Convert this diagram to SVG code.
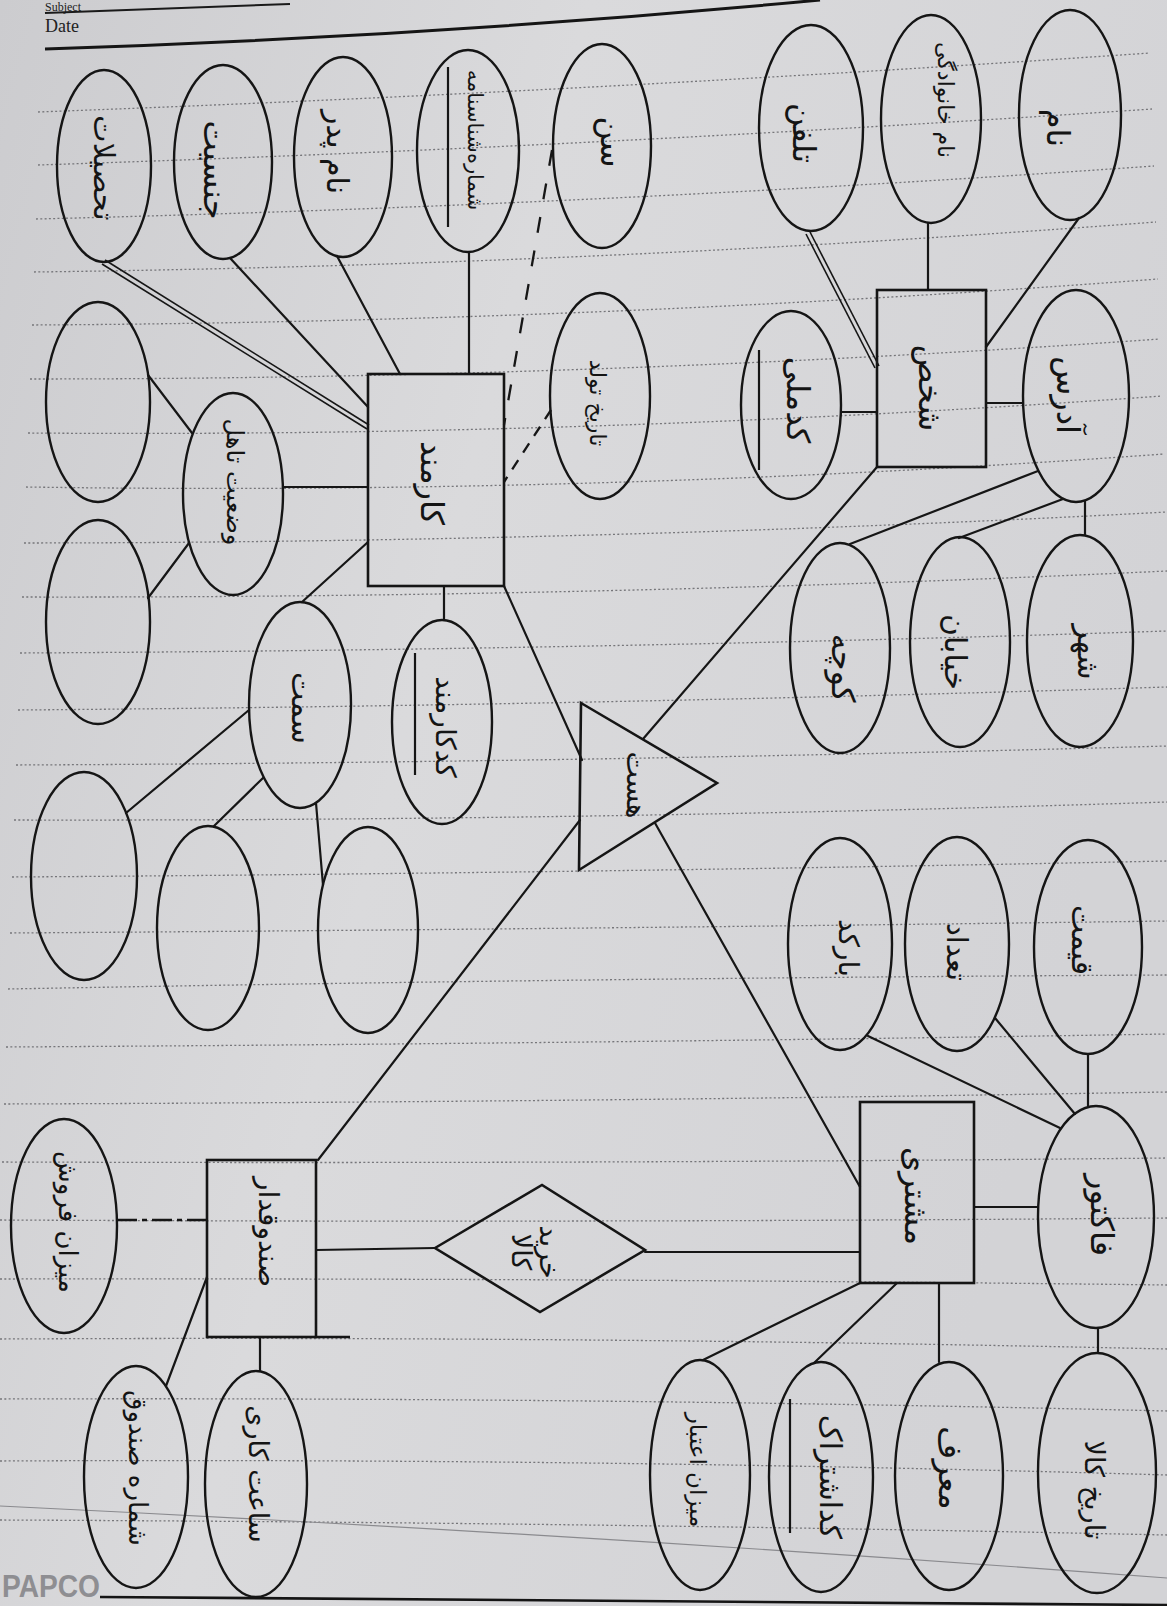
<svg xmlns="http://www.w3.org/2000/svg" width="1167" height="1606" viewBox="0 0 1167 1606">
<defs>
<linearGradient id="paper" x1="0" y1="0" x2="1" y2="0.35">
<stop offset="0" stop-color="#cccccf"/>
<stop offset="0.45" stop-color="#dadadc"/>
<stop offset="1" stop-color="#d3d3d6"/>
</linearGradient>
</defs>
<style>
.ln{stroke:#161616;stroke-width:2.2;fill:none;stroke-linecap:round}
.dbl{stroke:#161616;stroke-width:1.6;fill:none}
.dash{stroke:#161616;stroke-width:2.3;fill:none;stroke-dasharray:16 18}
.dash2{stroke:#161616;stroke-width:2.3;fill:none;stroke-dasharray:11 9}
.dashdot{stroke:#161616;stroke-width:2.4;fill:none;stroke-dasharray:20 5 5 5}
.shape{fill:none;stroke:#151515;stroke-width:2.6;stroke-linejoin:miter}
.ell{fill:none;stroke:#151515;stroke-width:2.4}
.lbl{font-family:"DejaVu Sans","Noto Sans",sans-serif;fill:#141414;text-anchor:middle;dominant-baseline:central}
.key{stroke:#151515;stroke-width:2.2}
.rule{fill:none;stroke:#76767a;stroke-width:1.3;stroke-dasharray:2 2.3}
</style>

<!-- notebook page -->
<rect x="0" y="0" width="1167" height="1606" fill="url(#paper)"/>
<g id="ruling">
<path class="rule" d="M38,112 Q590,91.5 1150,53"/>
<path class="rule" d="M38,165 Q590,147 1152,109"/>
<path class="rule" d="M36,219 Q590,205.5 1154,166"/>
<path class="rule" d="M34,272 Q590,265 1156,222"/>
<path class="rule" d="M32,325 Q590,322 1158,279"/>
<path class="rule" d="M30,379 Q590,379 1160,339"/>
<path class="rule" d="M28,433 Q590,437.5 1162,396"/>
<path class="rule" d="M26,487 Q590,495.5 1164,454"/>
<path class="rule" d="M24,543 Q590,542.5 1167,512"/>
<path class="rule" d="M22,597 Q590,598 1167,571"/>
<path class="rule" d="M20,653 Q590,650 1167,631"/>
<path class="rule" d="M18,710 Q590,705.5 1167,687"/>
<path class="rule" d="M16,765 Q590,762.5 1167,746"/>
<path class="rule" d="M14,820 Q590,821 1167,802"/>
<path class="rule" d="M12,877 Q590,873 1167,861"/>
<path class="rule" d="M10,933 Q590,929 1167,921"/>
<path class="rule" d="M8,989 Q590,978 1167,975"/>
<path class="rule" d="M6,1047 Q590,1043.5 1167,1034"/>
<path class="rule" d="M4,1104 Q590,1102 1167,1092"/>
<path class="rule" d="M2,1162 Q590,1164 1167,1158"/>
<path class="rule" d="M0,1220 Q590,1223 1167,1218"/>
<path class="rule" d="M0,1279 Q590,1278 1167,1285"/>
<path class="rule" d="M0,1339 Q590,1336 1167,1349"/>
<path class="rule" d="M0,1399 Q590,1397 1167,1411"/>
<path class="rule" d="M0,1461 Q590,1458 1167,1475"/>
<path class="rule" d="M0,1520 Q590,1522.5 1167,1535"/>
<path d="M0,1506 Q600,1535 1167,1578" fill="none" stroke="#8a8a8e" stroke-width="1.2"/>
</g>

<!-- page header and footer -->
<g id="header">
<text x="45" y="11" font-family="Liberation Serif, serif" font-size="12" fill="#222">Subject</text>
<path d="M45,13 L290,4" fill="none" stroke="#1a1a1a" stroke-width="2"/>
<text x="45" y="32" font-family="Liberation Serif, serif" font-size="18" fill="#222">Date</text>
<path d="M45,49 Q427,37 820,0" fill="none" stroke="#151515" stroke-width="3"/>
</g>
<g id="footer">
<text x="2" y="1597" font-family="Liberation Sans, sans-serif" font-weight="bold" font-size="32" fill="#8e8e92" textLength="98" lengthAdjust="spacingAndGlyphs">PAPCO</text>
<path d="M100,1597 L1167,1605" fill="none" stroke="#151515" stroke-width="2.6"/>
</g>

<!-- connectors -->
<g id="connectors">
<!-- person -->
<line class="ln" x1="1079" y1="218" x2="986" y2="347"/>
<line class="ln" x1="928" y1="223" x2="928" y2="290"/>
<line class="dbl" x1="810" y1="232" x2="879" y2="366"/>
<line class="dbl" x1="806" y1="234" x2="875" y2="368"/>
<line class="ln" x1="841" y1="412" x2="877" y2="412"/>
<line class="ln" x1="986" y1="403" x2="1023" y2="403"/>
<line class="ln" x1="1085" y1="501" x2="1085" y2="535"/>
<line class="ln" x1="1063" y1="499" x2="959" y2="538"/>
<line class="ln" x1="1038" y1="471" x2="850" y2="544"/>
<line class="ln" x1="877" y1="467" x2="643" y2="739"/>
<!-- employee -->
<line class="ln" x1="469" y1="252" x2="469" y2="374"/>
<line class="ln" x1="337" y1="256" x2="400" y2="374"/>
<line class="ln" x1="230" y1="258" x2="368" y2="407"/>
<line class="dbl" x1="105" y1="260" x2="369" y2="425"/>
<line class="dbl" x1="102" y1="264" x2="367" y2="429"/>
<line class="dash" x1="552" y1="150" x2="504" y2="425"/>
<line class="dash2" x1="551" y1="410" x2="504" y2="482"/>
<line class="ln" x1="283" y1="487" x2="368" y2="487"/>
<line class="ln" x1="148" y1="375" x2="192" y2="433"/>
<line class="ln" x1="148" y1="598" x2="189" y2="543"/>
<line class="ln" x1="444" y1="586" x2="444" y2="620"/>
<line class="ln" x1="302" y1="602" x2="368" y2="542"/>
<line class="ln" x1="126" y1="813" x2="249" y2="710"/>
<line class="ln" x1="214" y1="826" x2="263" y2="778"/>
<line class="ln" x1="323" y1="885" x2="316" y2="803"/>
<line class="ln" x1="504" y1="586" x2="582" y2="760"/>
<!-- specialisation -->
<line class="ln" x1="580" y1="820" x2="318" y2="1160"/>
<line class="ln" x1="655" y1="823" x2="860" y2="1187"/>
<!-- customer -->
<line class="ln" x1="974" y1="1207" x2="1038" y2="1207"/>
<line class="ln" x1="1098" y1="1328" x2="1098" y2="1353"/>
<line class="ln" x1="868" y1="1036" x2="1060" y2="1128"/>
<line class="ln" x1="995" y1="1018" x2="1075" y2="1114"/>
<line class="ln" x1="1088" y1="1054" x2="1088" y2="1106"/>
<line class="ln" x1="939" y1="1283" x2="939" y2="1362"/>
<line class="ln" x1="897" y1="1283" x2="814" y2="1363"/>
<line class="ln" x1="860" y1="1283" x2="703" y2="1360"/>
<line class="ln" x1="645" y1="1252" x2="860" y2="1252"/>
<!-- cashier -->
<line class="ln" x1="316" y1="1250" x2="435" y2="1248"/>
<line class="dashdot" x1="117" y1="1220" x2="207" y2="1220"/>
<line class="ln" x1="260" y1="1337" x2="260" y2="1371"/>
<line class="ln" x1="166" y1="1386" x2="207" y2="1277"/>
</g>

<!-- entity: person -->
<g id="person">
<rect class="shape" x="877" y="290" width="109" height="177"/>
<text class="lbl" font-size="32" transform="translate(930,388) rotate(90)">شخص</text>
</g>
<g id="person-name"><ellipse class="ell" cx="1070" cy="115" rx="51" ry="105"/><text class="lbl" font-size="32" transform="translate(1058,128) rotate(90)">نام</text></g>
<g id="person-family"><ellipse class="ell" cx="931" cy="119" rx="50" ry="104"/><text class="lbl" font-size="22" transform="translate(945,100) rotate(90)">نام خانوادگی</text></g>
<g id="person-phone"><ellipse class="ell" cx="811" cy="128" rx="52" ry="103"/><text class="lbl" font-size="32" transform="translate(804,133) rotate(90)">تلفن</text></g>
<g id="person-nid"><ellipse class="ell" cx="791" cy="405" rx="50" ry="94"/><text class="lbl" font-size="32" transform="translate(798,400) rotate(90)">کدملی</text><line class="key" x1="759" y1="350" x2="759" y2="470"/></g>
<g id="person-address"><ellipse class="ell" cx="1076" cy="396" rx="53" ry="106"/><text class="lbl" font-size="32" transform="translate(1068,395) rotate(90)">آدرس</text></g>
<g id="address-city"><ellipse class="ell" cx="1080" cy="641" rx="53" ry="106"/><text class="lbl" font-size="30" transform="translate(1088,652) rotate(90)">شهر</text></g>
<g id="address-street"><ellipse class="ell" cx="960" cy="642" rx="50" ry="105"/><text class="lbl" font-size="30" transform="translate(955,652) rotate(90)">خیابان</text></g>
<g id="address-alley"><ellipse class="ell" cx="840" cy="648" rx="50" ry="105"/><text class="lbl" font-size="32" transform="translate(843,668) rotate(90)">کوچه</text></g>

<!-- specialisation triangle -->
<g id="isa">
<polygon class="shape" points="581,703 717,783 579,870"/>
<text class="lbl" font-size="28" transform="translate(636,785) rotate(90)">هست</text>
</g>

<!-- entity: employee -->
<g id="employee">
<rect class="shape" x="368" y="374" width="136" height="212"/>
<text class="lbl" font-size="32" transform="translate(432,483) rotate(90)">کارمند</text>
</g>
<g id="emp-education"><ellipse class="ell" cx="104" cy="166" rx="47" ry="96"/><text class="lbl" font-size="29" transform="translate(104,168) rotate(90)">تحصیلات</text></g>
<g id="emp-gender"><ellipse class="ell" cx="223" cy="162" rx="49" ry="97"/><text class="lbl" font-size="32" transform="translate(215,170) rotate(90)">جنسیت</text></g>
<g id="emp-father"><ellipse class="ell" cx="343" cy="157" rx="49" ry="100"/><text class="lbl" font-size="30" transform="translate(337,152) rotate(90)">نام پدر</text></g>
<g id="emp-idno"><ellipse class="ell" cx="468" cy="151" rx="51" ry="101"/><text class="lbl" font-size="21" transform="translate(475,140) rotate(90)">شماره‌شناسنامه</text><line class="key" x1="448" y1="67" x2="448" y2="227"/></g>
<g id="emp-age"><ellipse class="ell" cx="602" cy="146" rx="49" ry="102"/><text class="lbl" font-size="32" transform="translate(612,142) rotate(90)">سن</text></g>
<g id="emp-birth"><ellipse class="ell" cx="600" cy="396" rx="50" ry="103"/><text class="lbl" font-size="22" transform="translate(597,403) rotate(90)">تاریخ تولد</text></g>
<g id="emp-marital"><ellipse class="ell" cx="233" cy="494" rx="50" ry="101"/><text class="lbl" font-size="24" transform="translate(235,482) rotate(90)">وضعیت تاهل</text></g>
<g id="marital-part1"><ellipse class="ell" cx="98" cy="402" rx="52" ry="100"/></g>
<g id="marital-part2"><ellipse class="ell" cx="98" cy="622" rx="52" ry="102"/></g>
<g id="emp-code"><ellipse class="ell" cx="442" cy="722" rx="50" ry="102"/><text class="lbl" font-size="28" transform="translate(445,727) rotate(90)">کدکارمند</text><line class="key" x1="415" y1="653" x2="415" y2="775"/></g>
<g id="emp-post"><ellipse class="ell" cx="300" cy="705" rx="51" ry="103"/><text class="lbl" font-size="30" transform="translate(302,708) rotate(90)">سمت</text></g>
<g id="post-part1"><ellipse class="ell" cx="84" cy="876" rx="53" ry="104"/></g>
<g id="post-part2"><ellipse class="ell" cx="208" cy="928" rx="51" ry="102"/></g>
<g id="post-part3"><ellipse class="ell" cx="368" cy="930" rx="50" ry="103"/></g>

<!-- entity: customer -->
<g id="customer">
<rect class="shape" x="860" y="1102" width="114" height="181"/>
<text class="lbl" font-size="32" transform="translate(916,1196) rotate(90)">مشتری</text>
</g>
<g id="cust-invoice"><ellipse class="ell" cx="1096" cy="1217" rx="58" ry="111"/><text class="lbl" font-size="32" transform="translate(1102,1215) rotate(90)">فاکتور</text></g>
<g id="invoice-barcode"><ellipse class="ell" cx="840" cy="944" rx="52" ry="106"/><text class="lbl" font-size="28" transform="translate(848,948) rotate(90)">بارکد</text></g>
<g id="invoice-count"><ellipse class="ell" cx="957" cy="944" rx="52" ry="107"/><text class="lbl" font-size="29" transform="translate(957,952) rotate(90)">تعداد</text></g>
<g id="invoice-price"><ellipse class="ell" cx="1088" cy="947" rx="54" ry="107"/><text class="lbl" font-size="30" transform="translate(1082,940) rotate(90)">قیمت</text></g>
<g id="invoice-date"><ellipse class="ell" cx="1097" cy="1473" rx="59" ry="120"/><text class="lbl" font-size="27" transform="translate(1094,1490) rotate(90)">تاریخ کالا</text></g>
<g id="cust-referrer"><ellipse class="ell" cx="949" cy="1476" rx="54" ry="114"/><text class="lbl" font-size="32" transform="translate(950,1468) rotate(90)">معرف</text></g>
<g id="cust-subscription"><ellipse class="ell" cx="821" cy="1477" rx="52" ry="115"/><text class="lbl" font-size="30" transform="translate(830,1477) rotate(90)">کداشتراک</text><line class="key" x1="790" y1="1399" x2="790" y2="1533"/></g>
<g id="cust-credit"><ellipse class="ell" cx="700" cy="1475" rx="50" ry="115"/><text class="lbl" font-size="23" transform="translate(698,1470) rotate(90)">میزان اعتبار</text></g>

<!-- relationship -->
<g id="buy">
<polygon class="shape" points="435,1248 542,1185 645,1250 540,1312"/>
<text class="lbl" font-size="27" transform="translate(537,1252) rotate(90)"><tspan x="0" y="-13">خرید</tspan><tspan x="0" y="15">کالا</tspan></text>
</g>

<!-- entity: cashier -->
<g id="cashier">
<rect class="shape" x="207" y="1160" width="109" height="177"/>
<line class="shape" x1="316" y1="1337" x2="350" y2="1337"/>
<text class="lbl" font-size="28" transform="translate(268,1232) rotate(90)">صندوقدار</text>
</g>
<g id="cash-sales"><ellipse class="ell" cx="64" cy="1226" rx="53" ry="107"/><text class="lbl" font-size="26" transform="translate(68,1222) rotate(90)">میزان فروش</text></g>
<g id="cash-boxno"><ellipse class="ell" cx="136" cy="1477" rx="52" ry="111"/><text class="lbl" font-size="26" transform="translate(138,1468) rotate(90)">شماره صندوق</text></g>
<g id="cash-hours"><ellipse class="ell" cx="256" cy="1484" rx="51" ry="113"/><text class="lbl" font-size="27" transform="translate(258,1474) rotate(90)">ساعت کاری</text></g>
</svg>
